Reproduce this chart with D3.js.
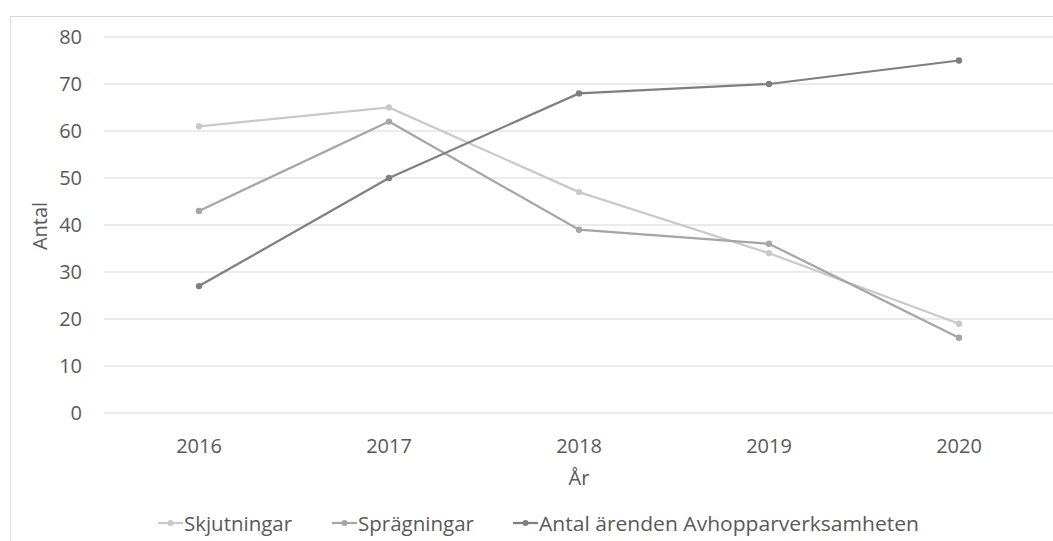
<!DOCTYPE html>
<html>
<head>
<meta charset="utf-8">
<script src="https://cdn.jsdelivr.net/npm/d3@7"></script>
<style>
  body { margin: 0; background: #fff; }
  svg { font-family: "Open Sans", "Noto Sans", sans-serif; }
</style>
</head>
<body>
<script>
var w = 1053;
var h = 541;

// data
var years = ['2016', '2017', '2018', '2019', '2020'];
var skjutningar = [61, 65, 47, 34, 19];
var sprangningar = [43, 62, 39, 36, 16];
var avhopp = [27, 50, 68, 70, 75];
var yTicks = [0, 10, 20, 30, 40, 50, 60, 70, 80];
var seriesNames = ['Skjutningar', 'Sprägningar', 'Antal ärenden Avhopparverksamheten'];
var seriesColors = ['#c9c9c9', '#a5a5a5', '#7f7f7f'];

var series = [skjutningar, sprangningar, avhopp].map(function(v, i) {
  return { name: seriesNames[i], color: seriesColors[i], values: v };
});

var svg = d3.select('body').append('svg')
  .attr('width', w)
  .attr('height', h);

// chart frame (runs off the right and bottom edges)
svg.append('rect')
  .attr('x', 10.5).attr('y', 16.5)
  .attr('width', w + 20).attr('height', h)
  .attr('fill', '#fff')
  .attr('stroke', '#d9d9d9')
  .attr('stroke-width', 1);

var plotL = 104, plotR = 1054, plotT = 37, plotB = 413;

var x = d3.scaleBand().domain(years).range([plotL, plotR]);
var y = d3.scaleLinear().domain([0, 80]).range([plotB, plotT]);

// gridlines
svg.append('g')
  .selectAll('line')
  .data(yTicks)
  .join('line')
  .attr('x1', plotL).attr('x2', plotR)
  .attr('y1', function(d) { return y(d); })
  .attr('y2', function(d) { return y(d); })
  .attr('stroke', '#e4e4e4')
  .attr('stroke-width', 1.5);

// y axis labels
var yAxis = svg.append('g')
  .attr('transform', 'translate(82,0)')
  .call(d3.axisLeft(y).tickValues(yTicks).tickSize(0).tickPadding(0));
yAxis.select('.domain').remove();
yAxis.selectAll('text')
  .attr('fill', '#595959')
  .style('font-size', '20px')
  .style('font-family', '"Open Sans", sans-serif');

// x axis labels
var xAxis = svg.append('g')
  .attr('transform', 'translate(0,' + plotB + ')')
  .call(d3.axisBottom(x).tickSize(0).tickPadding(26));
xAxis.select('.domain').remove();
xAxis.selectAll('text')
  .attr('fill', '#595959')
  .style('font-size', '20px')
  .style('font-family', '"Open Sans", sans-serif');

// axis titles
svg.append('text')
  .attr('transform', 'translate(47,226) rotate(-90)')
  .attr('text-anchor', 'middle')
  .attr('fill', '#595959')
  .style('font-size', '20px')
  .text('Antal');

svg.append('text')
  .attr('x', 579).attr('y', 485)
  .attr('text-anchor', 'middle')
  .attr('fill', '#595959')
  .style('font-size', '20px')
  .text('År');

// lines + markers
var line = d3.line()
  .x(function(d, i) { return x(years[i]) + x.bandwidth() / 2; })
  .y(function(d) { return y(d); });

var g = svg.append('g');
series.forEach(function(s) {
  g.append('path')
    .datum(s.values)
    .attr('d', line)
    .attr('fill', 'none')
    .attr('stroke', s.color)
    .attr('stroke-width', 2.25);
  g.selectAll(null)
    .data(s.values)
    .join('circle')
    .attr('cx', function(d, i) { return x(years[i]) + x.bandwidth() / 2; })
    .attr('cy', function(d) { return y(d); })
    .attr('r', 3.2)
    .attr('fill', s.color);
});

// legend
var legendX = [158, 332, 513];
var legendLen = [108, 116, 380];
var legend = svg.append('g');
series.forEach(function(s, i) {
  var lg = legend.append('g').attr('transform', 'translate(' + legendX[i] + ',523)');
  lg.append('line')
    .attr('x1', 0).attr('x2', 25)
    .attr('stroke', s.color).attr('stroke-width', 2.25);
  lg.append('circle').attr('cx', 12.5).attr('r', 3).attr('fill', s.color);
  lg.append('text')
    .attr('x', 26).attr('y', 8)
    .attr('fill', '#595959')
    .attr('textLength', legendLen[i])
    .attr('lengthAdjust', 'spacingAndGlyphs')
    .style('font-size', '20px')
    .text(s.name);
});
</script>
</body>
</html>
